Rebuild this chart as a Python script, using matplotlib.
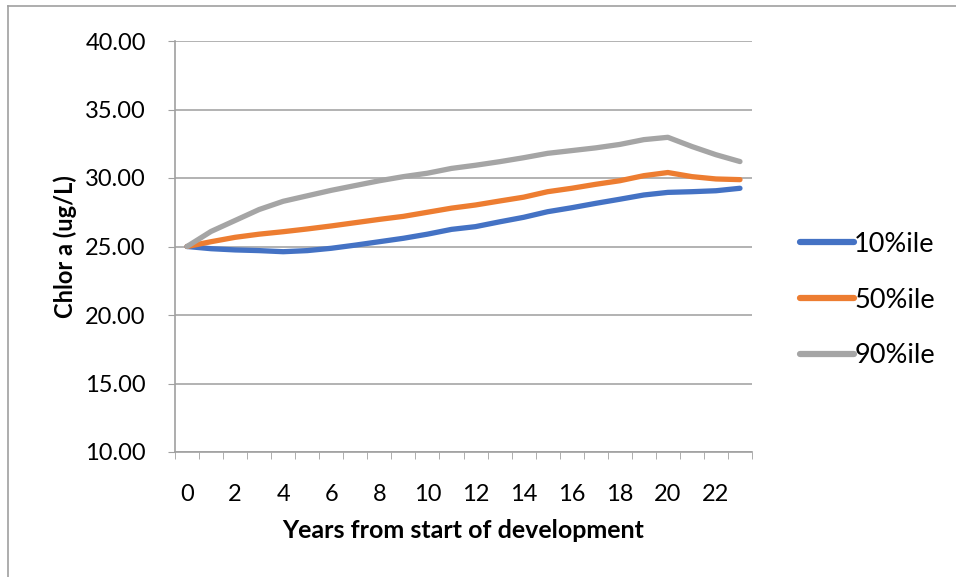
import numpy as np
import matplotlib.pyplot as plt
from matplotlib.lines import Line2D
from matplotlib.ticker import FixedLocator

plt.rcParams['font.family'] = ['Lato', 'DejaVu Sans']

years = np.arange(24)
p10 = [25.00, 24.84, 24.75, 24.70, 24.62, 24.70, 24.87, 25.10, 25.35, 25.60, 25.90, 26.25,
       26.45, 26.80, 27.13, 27.54, 27.83, 28.15, 28.45, 28.76, 28.95, 29.00, 29.07, 29.25]
p50 = [25.00, 25.35, 25.67, 25.90, 26.08, 26.28, 26.50, 26.74, 26.98, 27.20, 27.50, 27.80,
       28.03, 28.32, 28.60, 29.00, 29.25, 29.54, 29.80, 30.17, 30.40, 30.10, 29.93, 29.88]
p90 = [25.00, 26.10, 26.90, 27.70, 28.30, 28.70, 29.10, 29.45, 29.80, 30.10, 30.35, 30.70,
       30.93, 31.19, 31.48, 31.80, 32.00, 32.20, 32.45, 32.80, 32.97, 32.30, 31.70, 31.20]
labels = ["10%ile", "50%ile", "90%ile"]
colors = ["#4472C4", "#ED7D31", "#A5A5A5"]

fig = plt.figure(figsize=(9.56, 5.77), dpi=100)
ax = fig.add_axes([175 / 956, 125 / 577, 577 / 956, 411 / 577])

for vals, lab, col in zip([p10, p50, p90], labels, colors):
    ax.plot(years, vals, color=col, lw=3.8, label=lab, solid_capstyle='round')

ax.set_xlim(-0.5, 23.5)
ax.set_ylim(10, 40)
ax.set_yticks(np.arange(10, 41, 5))
ax.set_yticklabels([f"{v:.2f}" for v in np.arange(10, 41, 5)], fontsize=17)
ax.set_xticks(np.arange(0, 23, 2))
ax.set_xticklabels([str(v) for v in range(0, 23, 2)], fontsize=17)
ax.xaxis.set_minor_locator(FixedLocator(np.arange(-0.5, 24, 1)))
ax.tick_params(axis='x', which='major', length=0, pad=23)
ax.tick_params(axis='x', which='minor', length=5, color='#A0A0A0')
ax.tick_params(axis='y', length=5, color='#A0A0A0', pad=16)

ax.grid(axis='y', color='#A6A6A6', lw=1.2)
ax.set_axisbelow(True)
for s in ['top', 'right']:
    ax.spines[s].set_visible(False)
for s in ['left', 'bottom']:
    ax.spines[s].set_color('#A0A0A0')
    ax.spines[s].set_linewidth(1.2)

ax.set_xlabel("Years from start of development", fontsize=18, fontweight='bold', labelpad=10)
ax.set_ylabel("Chlor a (ug/L)", fontsize=17, fontweight='bold', labelpad=6)

leg = ax.legend(loc='center left', bbox_to_anchor=(800 / 956, 1 - 300 / 577),
                bbox_transform=fig.transFigure, frameon=False, fontsize=19.5,
                handlelength=2.0, handletextpad=0.0, labelspacing=1.13,
                borderpad=0, borderaxespad=0)
for h in leg.get_lines():
    h.set_linewidth(4.5)

# outer chart border (left and top edges)
fig.add_artist(Line2D([8 / 956, 8 / 956], [0, 1 - 6 / 577], color='#A0A0A0', lw=1.2))
fig.add_artist(Line2D([8 / 956, 1], [1 - 6 / 577, 1 - 6 / 577], color='#A0A0A0', lw=1.2))

fig.savefig("out.png", dpi=100)
